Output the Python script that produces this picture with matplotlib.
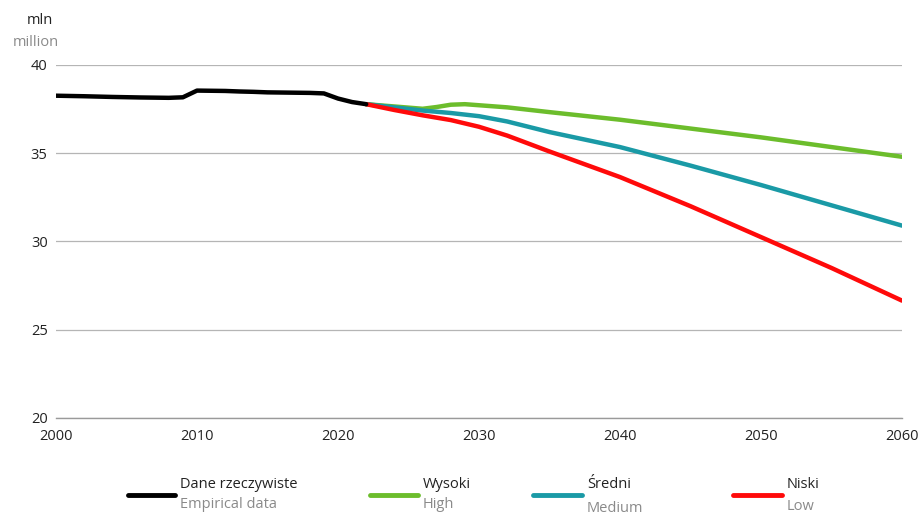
import matplotlib
matplotlib.use("Agg")
import matplotlib.pyplot as plt
from matplotlib.lines import Line2D

plt.rcParams["font.family"] = ["Open Sans", "DejaVu Sans"]

# empirical data (million)
years_emp = [2000, 2002, 2004, 2006, 2008, 2009, 2010, 2011, 2012, 2013, 2014,
             2015, 2016, 2017, 2018, 2019, 2020, 2021, 2022]
pop_emp = [38.26, 38.23, 38.19, 38.16, 38.14, 38.17, 38.55, 38.54, 38.53, 38.50,
           38.48, 38.45, 38.44, 38.43, 38.42, 38.39, 38.10, 37.90, 37.78]

# projection scenarios
years_high = [2022, 2024, 2026, 2027, 2028, 2029, 2030, 2032, 2035, 2040, 2045, 2050, 2055, 2060]
pop_high = [37.78, 37.65, 37.52, 37.62, 37.75, 37.78, 37.72, 37.60, 37.33, 36.90, 36.40, 35.90, 35.35, 34.80]

years_mid = [2022, 2024, 2026, 2028, 2030, 2032, 2035, 2040, 2045, 2050, 2055, 2060]
pop_mid = [37.78, 37.60, 37.42, 37.28, 37.10, 36.80, 36.20, 35.35, 34.30, 33.20, 32.05, 30.90]

years_low = [2022, 2024, 2026, 2028, 2030, 2032, 2035, 2040, 2045, 2050, 2055, 2060]
pop_low = [37.78, 37.45, 37.15, 36.88, 36.50, 36.00, 35.10, 33.65, 32.00, 30.25, 28.50, 26.65]

x_ticks = [2000, 2010, 2020, 2030, 2040, 2050, 2060]
y_ticks = [20, 25, 30, 35, 40]

legend_pl = ["Dane rzeczywiste", "Wysoki", "Średni", "Niski"]
legend_en = ["Empirical data", "High", "Medium", "Low"]

c_emp = "#000000"
c_high = "#6cbd2c"
c_mid = "#1a9aa6"
c_low = "#ff0a0a"
grey = "#8a8a8a"

fig = plt.figure(figsize=(9.2, 5.14), dpi=100)
ax = fig.add_axes([56 / 920, 1 - 418 / 514, (902 - 56) / 920, (418 - 65) / 514])

ax.plot(years_high, pop_high, color=c_high, lw=3.2, solid_capstyle="round", zorder=3)
ax.plot(years_mid, pop_mid, color=c_mid, lw=3.2, solid_capstyle="round", zorder=4)
ax.plot(years_low, pop_low, color=c_low, lw=3.2, solid_capstyle="round", zorder=5)
ax.plot(years_emp, pop_emp, color=c_emp, lw=3.2, solid_capstyle="round", zorder=6)

ax.set_xlim(2000, 2060)
ax.set_ylim(20, 40)
ax.set_xticks(x_ticks)
ax.set_yticks(y_ticks)
ax.grid(axis="y", color="#b5b5b5", lw=0.9)
ax.set_axisbelow(True)
for s in ["top", "right", "left"]:
    ax.spines[s].set_visible(False)
ax.spines["bottom"].set_color("#9a9a9a")
ax.spines["bottom"].set_linewidth(1.0)
ax.tick_params(axis="both", length=0, labelsize=10.5, colors="#222222")
ax.tick_params(axis="y", pad=6)
ax.tick_params(axis="x", pad=8)

fig.text(40 / 920, 1 - 20 / 514, "mln", ha="center", va="center", fontsize=10.5, color="#222222")
fig.text(36 / 920, 1 - 43 / 514, "million", ha="center", va="center", fontsize=10.5, color=grey)

# legend drawn by hand: handle line + two-line label
handle_x = [(128, 175), (370, 418), (533, 582), (733, 782)]
colors = [c_emp, c_high, c_mid, c_low]
en_y = [505, 505, 508, 506]
for (x0, x1), col, pl, en, ey in zip(handle_x, colors, legend_pl, legend_en, en_y):
    fig.add_artist(Line2D([x0 / 920, x1 / 920], [1 - 495 / 514, 1 - 495 / 514],
                          color=col, lw=3.5, solid_capstyle="round"))
    fig.text((x1 + 5) / 920, 1 - 485 / 514, pl, ha="left", va="center",
             fontsize=10.5, color="#222222")
    fig.text((x1 + 5) / 920, 1 - ey / 514, en, ha="left", va="center",
             fontsize=10.5, color=grey)

fig.savefig("out.png", dpi=100)
